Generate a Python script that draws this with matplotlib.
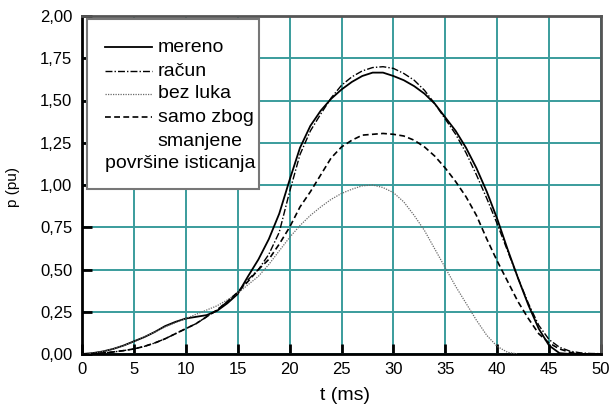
import matplotlib
matplotlib.use("Agg")
import matplotlib.pyplot as plt
from matplotlib.patches import Rectangle
from matplotlib.lines import Line2D
from matplotlib.ticker import FuncFormatter, MultipleLocator

plt.rcParams['font.family'] = ['Liberation Sans', 'DejaVu Sans']

# time axis (ms)
t = list(range(0, 51))

# measured power
mereno = [0.00, 0.005, 0.015, 0.03, 0.05, 0.075, 0.10, 0.13, 0.165, 0.19,
          0.21, 0.22, 0.23, 0.255, 0.30, 0.355, 0.46, 0.56, 0.68, 0.83,
          1.03, 1.22, 1.35, 1.44, 1.51, 1.565, 1.61, 1.645, 1.665, 1.665,
          1.645, 1.62, 1.585, 1.54, 1.48, 1.40, 1.32, 1.22, 1.10, 0.96,
          0.80, 0.62, 0.45, 0.29, 0.15, 0.05, 0.005, 0.0, 0.0, 0.0, 0.0]

# calculated power
racun = [0.00, 0.002, 0.006, 0.012, 0.02, 0.03, 0.045, 0.065, 0.09, 0.12,
         0.15, 0.18, 0.22, 0.26, 0.31, 0.365, 0.44, 0.50, 0.59, 0.72,
         0.96, 1.18, 1.32, 1.42, 1.515, 1.59, 1.64, 1.675, 1.695, 1.70,
         1.69, 1.66, 1.62, 1.56, 1.48, 1.39, 1.30, 1.19, 1.06, 0.92,
         0.77, 0.61, 0.45, 0.30, 0.17, 0.085, 0.04, 0.017, 0.007, 0.003, 0.002]

# without arc
t_bez = list(range(0, 43))
bez_luka = [0.00, 0.005, 0.015, 0.03, 0.05, 0.072, 0.10, 0.13, 0.16, 0.185,
            0.21, 0.235, 0.26, 0.285, 0.32, 0.36, 0.41, 0.46, 0.53, 0.61,
            0.69, 0.76, 0.82, 0.87, 0.915, 0.95, 0.975, 0.995, 1.00, 0.985,
            0.955, 0.90, 0.82, 0.73, 0.62, 0.51, 0.40, 0.30, 0.20, 0.11,
            0.045, 0.01, 0.0]

# only due to reduced outflow area
samo_zbog = [0.00, 0.002, 0.006, 0.012, 0.02, 0.03, 0.045, 0.065, 0.09, 0.12,
             0.15, 0.18, 0.22, 0.26, 0.31, 0.365, 0.43, 0.50, 0.56, 0.65,
             0.75, 0.87, 0.96, 1.06, 1.16, 1.225, 1.265, 1.295, 1.30, 1.305,
             1.30, 1.29, 1.265, 1.225, 1.17, 1.10, 1.02, 0.93, 0.82, 0.68,
             0.55, 0.43, 0.31, 0.21, 0.12, 0.065, 0.03, 0.01, 0.0, 0.0, 0.0]

legend_labels = ["mereno", "račun", "bez luka", "samo zbog"]
legend_extra = ["smanjene", "površine isticanja"]

W, H = 613, 407
fig = plt.figure(figsize=(W / 100, H / 100), dpi=100)
ax = fig.add_axes([82 / W, (H - 354) / H, (601 - 82) / W, (354 - 16) / H])

styles = [
    dict(color='black', lw=1.3, ls='-'),
    dict(color='black', lw=1.0, ls=(0, (5, 1.5, 1, 1.5))),
    dict(color='#6a6a6a', lw=0.9, ls=(0, (1, 1))),
    dict(color='black', lw=1.2, ls=(0, (3.5, 2))),
]

ax.plot(t, mereno, **styles[0], zorder=5)
ax.plot(t, racun, **styles[1], zorder=5)
ax.plot(t_bez, bez_luka, **styles[2], zorder=5)
ax.plot(t, samo_zbog, **styles[3], zorder=5)

ax.set_xlim(0, 50)
ax.set_ylim(0, 2.0)
ax.xaxis.set_major_locator(MultipleLocator(5))
ax.yaxis.set_major_locator(MultipleLocator(0.25))
ax.yaxis.set_major_formatter(FuncFormatter(lambda v, p: f"{v:.2f}".replace('.', ',')))
ax.grid(True, color='#3a9c9c', lw=1.4, zorder=1)
ax.set_axisbelow(True)

ax.tick_params(axis='both', direction='in', length=7, width=2, colors='black',
               labelsize=12, top=False, right=False)
ax.tick_params(axis='x', pad=6)
ax.tick_params(axis='y', pad=7)

for side in ('left', 'bottom'):
    ax.spines[side].set_color('black')
    ax.spines[side].set_linewidth(2)
for side in ('top', 'right'):
    ax.spines[side].set_color('#555555')
    ax.spines[side].set_linewidth(2)

fig.text(345 / W, 1 - 396 / H, "t (ms)", ha='center', va='center', fontsize=14)
fig.text(13 / W, 1 - 187 / H, "p (pu)", ha='center', va='center', fontsize=11,
         rotation=90)

# legend box drawn in pixel positions converted to axes fractions
def ax_x(px):
    return (px - 82) / (601 - 82)

def ax_y(py):
    return (354 - py) / (354 - 16)

ax.add_patch(Rectangle((ax_x(87), ax_y(189)), ax_x(259) - ax_x(87),
                       ax_y(19) - ax_y(189), transform=ax.transAxes,
                       facecolor='white', edgecolor='#777777', lw=1.5,
                       zorder=10))
rows = [47, 71, 94, 117]
for lab, st, py in zip(legend_labels, styles, rows):
    ax.add_line(Line2D([ax_x(105), ax_x(152)], [ax_y(py), ax_y(py)],
                       transform=ax.transAxes, zorder=11, **st))
    ax.text(ax_x(158), ax_y(py), lab, transform=ax.transAxes, fontsize=14,
            ha='left', va='center', zorder=12)
ax.text(ax_x(157), ax_y(141), legend_extra[0], transform=ax.transAxes,
        fontsize=14, ha='left', va='center', zorder=12)
ax.text(ax_x(105), ax_y(164), legend_extra[1], transform=ax.transAxes,
        fontsize=14, ha='left', va='center', zorder=12)

fig.savefig("out.png", dpi=100)
